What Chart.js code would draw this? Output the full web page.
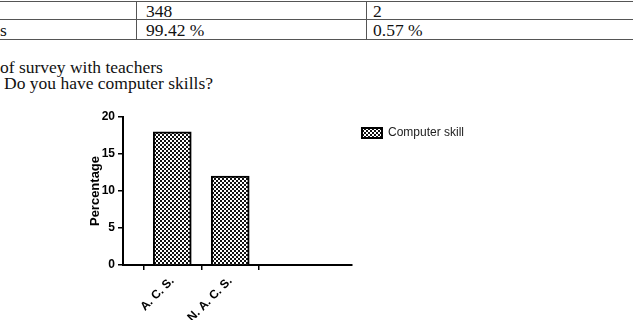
<!DOCTYPE html>
<html>
<head>
<meta charset="utf-8">
<script src="https://cdn.jsdelivr.net/npm/chart.js@4/dist/chart.umd.min.js"></script>
<style>
    body { margin: 0; width: 633px; height: 333px; background: #fff; overflow: hidden; position: relative; }
    .linea { position: absolute; left: 0; width: 633px; height: 1px; background: #555; }
    .col { position: absolute; top: 1px; width: 1px; height: 38px; background: #555; }
    .txt { position: absolute; font-family: "Liberation Serif", serif; font-size: 17.5px; line-height: 20px; color: #111; white-space: nowrap; }
    #grafico { position: absolute; left: 0; top: 100px; }
</style>
</head>
<body>
<div class="linea" style="top:1px"></div>
<div class="linea" style="top:19px"></div>
<div class="linea" style="top:39px"></div>
<div class="col" style="left:136px"></div>
<div class="col" style="left:366px"></div>
<div class="txt" style="left:146px; top:1px">348</div>
<div class="txt" style="left:373px; top:1px">2</div>
<div class="txt" style="left:0px; top:20px">s</div>
<div class="txt" style="left:146px; top:20px">99.42 %</div>
<div class="txt" style="left:373px; top:20px">0.57 %</div>
<div class="txt" style="left:0px; top:57px">of survey with teachers</div>
<div class="txt" style="left:4px; top:73px">Do you have computer skills?</div>

<canvas id="grafico" width="474" height="220"></canvas>

<script>
const categorias = ['A. C. S.', 'N. A. C. S.']
const porcentajes = [18, 12]
const etiqueta_serie = 'Computer skill'
const titulo_y = 'Percentage'

// patron de cuadritos como en la figura original
function crear_patron() {
    const c = document.createElement('canvas')
    c.width = 4
    c.height = 4
    const ctx = c.getContext('2d')
    ctx.fillStyle = '#fff'
    ctx.fillRect(0, 0, 4, 4)
    ctx.fillStyle = '#111'
    ctx.fillRect(0, 0, 2, 2)
    ctx.fillRect(2, 2, 2, 2)
    return ctx.createPattern(c, 'repeat')
}

const patron = crear_patron()
const puntos = porcentajes.map((v, i) => ({ x: i + 1, y: v }))
const fuente = 'Liberation Sans, Arial, sans-serif'

new Chart(document.querySelector('#grafico'), {
    type: 'bar',
    data: {
        datasets: [{
            label: etiqueta_serie,
            data: puntos,
            backgroundColor: patron,
            borderColor: '#000',
            borderWidth: 2,
            barThickness: 38
        }]
    },
    options: {
        responsive: false,
        animation: false,
        layout: { padding: { left: 84, top: 17, right: 0, bottom: 0 } },
        plugins: {
            tooltip: { enabled: false },
            legend: {
                position: 'right',
                align: 'start',
                maxWidth: 200,
                labels: {
                    boxWidth: 20,
                    boxHeight: 10,
                    color: '#222',
                    font: { family: fuente, size: 12 }
                }
            }
        },
        scales: {
            x: {
                type: 'linear',
                offset: false,
                min: 0.15,
                max: 4.1,
                afterBuildTicks: s => { s.ticks = categorias.map((c, i) => ({ value: i + 1 })) },
                afterFit: s => { s.height = 55 },
                grid: { drawOnChartArea: false, drawTicks: true, tickLength: 5, color: '#000', lineWidth: 1.5 },
                border: { color: '#000', width: 2 },
                ticks: {
                    minRotation: 45,
                    maxRotation: 45,
                    autoSkip: false,
                    padding: 4,
                    color: '#000',
                    font: { family: fuente, size: 12, weight: 'bold' },
                    callback: v => categorias[v - 1]
                }
            },
            y: {
                min: 0,
                max: 20,
                afterFit: s => { s.width = 39 },
                grid: { drawOnChartArea: false, drawTicks: true, tickLength: 5, color: '#000', lineWidth: 1.5 },
                border: { color: '#000', width: 2 },
                ticks: {
                    stepSize: 5,
                    color: '#000',
                    font: { family: fuente, size: 12, weight: 'bold' }
                },
                title: {
                    display: true,
                    text: titulo_y,
                    color: '#000',
                    font: { family: fuente, size: 13, weight: 'bold' }
                }
            }
        }
    }
})
</script>
</body>
</html>
